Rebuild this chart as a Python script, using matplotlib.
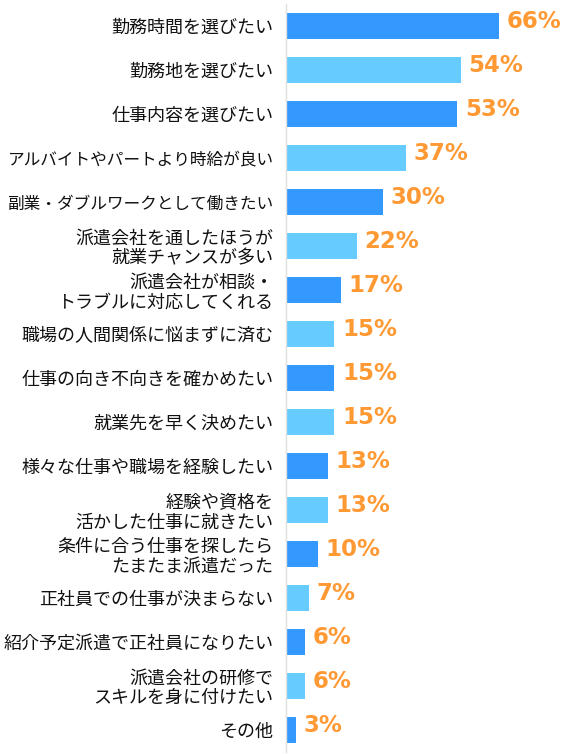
import matplotlib.pyplot as plt
import numpy as np

plt.rcParams['font.family'] = ['Noto Sans CJK JP', 'DejaVu Sans']

# data
labels = [
    '勤務時間を選びたい',
    '勤務地を選びたい',
    '仕事内容を選びたい',
    'アルバイトやパートより時給が良い',
    '副業・ダブルワークとして働きたい',
    '派遣会社を通したほうが\n就業チャンスが多い',
    '派遣会社が相談・\nトラブルに対応してくれる',
    '職場の人間関係に悩まずに済む',
    '仕事の向き不向きを確かめたい',
    '就業先を早く決めたい',
    '様々な仕事や職場を経験したい',
    '経験や資格を\n活かした仕事に就きたい',
    '条件に合う仕事を探したら\nたまたま派遣だった',
    '正社員での仕事が決まらない',
    '紹介予定派遣で正社員になりたい',
    '派遣会社の研修で\nスキルを身に付けたい',
    'その他',
]
values = [66, 54, 53, 37, 30, 22, 17, 15, 15, 15, 13, 13, 10, 7, 6, 6, 3]

dark = '#3399FF'
light = '#66CCFF'
colors = [dark if i % 2 == 0 else light for i in range(len(values))]

fig = plt.figure(figsize=(5.72, 7.54), dpi=100)
ax = fig.add_axes([0.5, 2 / 754, 0.5, 748 / 754])

y = np.arange(len(values))
ax.barh(y, values, height=0.6, color=colors)
ax.set_ylim(len(values) - 0.5, -0.5)
ax.set_xlim(0, 88.5)

for yi, v in zip(y, values):
    ax.text(v + 2.3, yi - 0.1, '{}%'.format(v), va='center', ha='left',
            fontsize=16.5, fontweight='bold', color='#FF9933',
            family='DejaVu Sans')

ax.set_yticks(y)
ax.set_yticklabels(labels, fontsize=13, color='#111111', linespacing=1.1)
# the two longest labels need a bit less room
for t in ax.get_yticklabels():
    if len(t.get_text()) > 15 and '\n' not in t.get_text():
        t.set_fontsize(12)
ax.tick_params(axis='y', length=0, pad=9)
ax.set_xticks([])

for s in ['top', 'right', 'bottom']:
    ax.spines[s].set_visible(False)
ax.spines['left'].set_color('#e0e0e0')
ax.spines['left'].set_linewidth(1)

fig.savefig('out.png', dpi=100)
